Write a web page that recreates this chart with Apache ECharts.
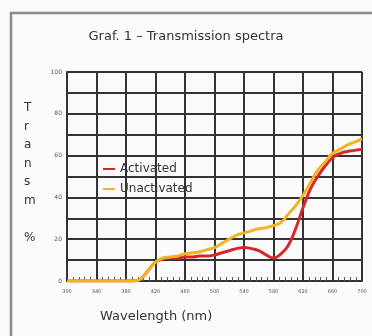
<!DOCTYPE html>
<html>
<head>
<meta charset="utf-8">
<script src="https://cdn.jsdelivr.net/npm/echarts@6/dist/echarts.min.js"></script>
<style>
html,body{margin:0;padding:0;background:#fbfbfb;}
#c{width:372px;height:336px;}
</style>
</head>
<body>
<div id="c"></div>
<script>
const wavelengths = [300,310,320,330,340,350,360,370,380,390,400,410,420,430,440,450,460,470,480,490,500,510,520,530,540,550,560,570,580,590,600,610,620,630,640,650,660,670,680,690,700];
const activated = [0,0,0,0,0,0,0,0,0,0,1,5,9,10.5,11,11,11.5,11.5,12,12,12.5,13.5,14.5,15.5,16,15.5,14.5,12.5,11,13,17,25,35,44,50,55,59,61,62,62.5,63];
const unactivated = [0,0,0,0,0,0,0,0,0,0,1,5,9,11,11.5,12,13,13.5,14,15,16,18,20,22,23,24,25,25.5,26.5,28,32,36,41,47,53,57,61,63,65,66.5,68];
const xTicks = [300,340,380,420,460,500,540,580,620,660,700];
const yTicks = [0,20,40,60,80,100];

const pair = (ys) => wavelengths.map((w,i)=>[w, ys[i]]);
const font = 'DejaVu Sans';
const chart = echarts.init(document.getElementById('c'), null, {renderer:'canvas'});
chart.setOption({
  backgroundColor:'#fbfbfb',
  animation:false,
  title:{text:'Graf. 1 – Transmission spectra', left:'center', top:25,
    textStyle:{fontFamily:font, fontSize:13, fontWeight:'normal', color:'#333'}},
  legend:{orient:'vertical', left:98, top:158, itemGap:8, itemWidth:12, itemHeight:2,
    icon:'rect', textStyle:{fontFamily:font, fontSize:12, color:'#333'},
    data:['Activated','Unactivated']},
  grid:{left:67, top:72, right:10, bottom:55},
  xAxis:{type:'value', min:xTicks[0], max:xTicks[xTicks.length-1], interval:40,
    axisLine:{lineStyle:{color:'#333', width:2}},
    axisTick:{show:false},
    minorTick:{show:true, splitNumber:5, length:-4, lineStyle:{color:'#555', width:1}},
    axisLabel:{fontSize:5, color:'#555', margin:8, fontFamily:font,
      formatter:(v)=> xTicks.includes(v) ? String(v) : ''},
    splitLine:{show:true, lineStyle:{color:'#333', width:2}}},
  yAxis:{type:'value', min:0, max:100, interval:10,
    axisLine:{show:true, lineStyle:{color:'#333', width:2}},
    axisTick:{show:false},
    axisLabel:{fontSize:6, color:'#555', margin:5, fontFamily:font,
      formatter:(v)=> yTicks.includes(v) ? String(v) : ''},
    splitLine:{show:true, lineStyle:{color:'#333', width:2}}},
  graphic:[
    {type:'rect', shape:{x:11, y:13, width:420, height:400}, style:{fill:'none', stroke:'#8c8c8c', lineWidth:2.5}, z:-1},
    {type:'text', left:100, top:310, style:{text:'Wavelength (nm)', font:'13px "DejaVu Sans"', fill:'#333'}},
    {type:'text', left:24, top:99, style:{text:'T\nr\na\nn\ns\nm\n\n%', font:'12px "DejaVu Sans"', fill:'#333', lineHeight:18.5, align:'center'}}
  ],
  series:[
    {name:'Activated', type:'line', data:pair(activated), smooth:true, showSymbol:false,
      lineStyle:{color:'#d8272b', width:3}, itemStyle:{color:'#d8272b'}, z:2},
    {name:'Unactivated', type:'line', data:pair(unactivated), smooth:true, showSymbol:false,
      lineStyle:{color:'#f2b425', width:3}, itemStyle:{color:'#f2b425'}, z:3}
  ]
});
</script>
</body>
</html>
